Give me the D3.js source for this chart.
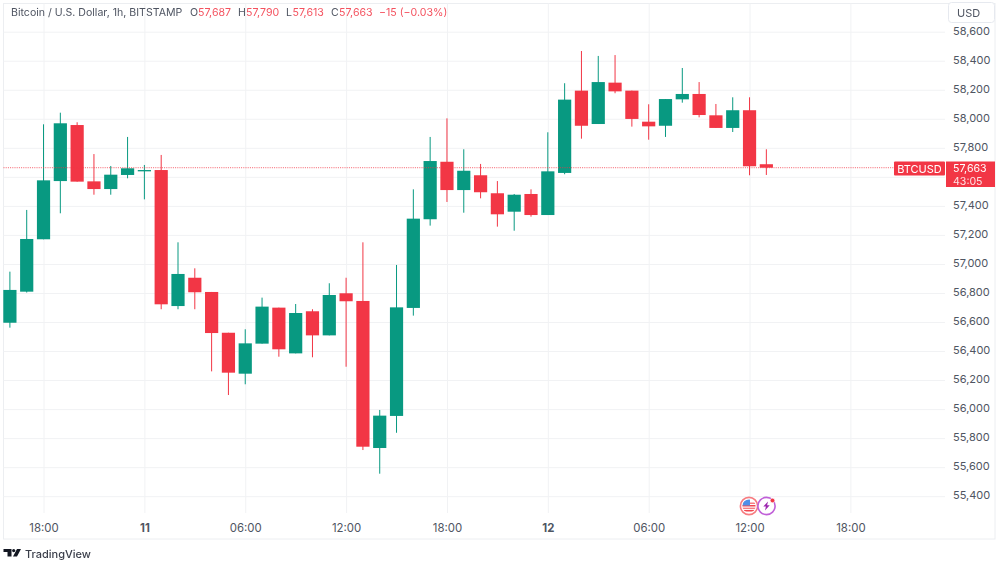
<!DOCTYPE html>
<html><head><meta charset="utf-8">
<script src="https://cdn.jsdelivr.net/npm/d3@7/dist/d3.min.js"></script>
<style>
html,body{margin:0;padding:0;background:#fff;overflow:hidden}
svg{display:block;filter:blur(.5px)}
text{font-family:Inter,"Liberation Sans",sans-serif}
</style></head><body><svg id="c" width="1000" height="562"></svg>
<script>
const startTime = "2024-08-10T16:00:00Z";
const opens  = [56595,56809,57170,57571,57957,57569,57516,57613,57638,57647,56710,56905,56807,56526,56244,56451,56699,56384,56674,56508,56798,56745,55732,55953,56697,57308,57704,57509,57611,57487,57360,57482,57337,57627,58194,57964,58249,58194,57980,57952,58134,58171,58024,57937,58059,57687];
const closes = [56821,57172,57576,57969,57567,57516,57615,57659,57647,56722,56931,56805,56524,56251,56453,56706,56412,56662,56508,56786,56743,55741,55955,56701,57312,57709,57509,57642,57494,57342,57477,57337,57638,58132,57952,58253,58189,57999,57948,58136,58171,58026,57937,58059,57673,57663];
const highs  = [56947,57372,57962,58042,57976,57757,57675,57875,57682,57751,57149,56970,56807,56526,56550,56768,56699,56724,56688,56867,56905,57149,55994,56993,57514,57875,58003,57790,57689,57571,57482,57514,57907,58245,58467,58433,58439,58194,58100,58136,58350,58253,58102,58148,58148,57790];
const lows   = [56561,56803,57170,57349,57567,57477,57477,57590,57445,56688,56688,56688,56260,56097,56171,56451,56361,56384,56357,56508,56292,55718,55555,55837,56644,57264,57427,57353,57452,57257,57229,57326,57337,57618,57863,57964,58176,57946,57856,57875,58111,58010,57937,57909,57611,57613];
const priceTicks = [55400,55600,55800,56000,56200,56400,56600,56800,57000,57200,57400,57600,57800,58000,58200,58400,58600];
const hiddenPriceLabels = [57600];
const timeTicks = ["2024-08-10T18:00:00Z","2024-08-11T00:00:00Z","2024-08-11T06:00:00Z","2024-08-11T12:00:00Z","2024-08-11T18:00:00Z","2024-08-12T00:00:00Z","2024-08-12T06:00:00Z","2024-08-12T12:00:00Z","2024-08-12T18:00:00Z"];
const timeLabels = ["18:00","11","06:00","12:00","18:00","12","06:00","12:00","18:00"];
const headerLabels = ["O","H","L","C"];
const headerValues = ["57,687","57,790","57,613","57,663"];
const titleText = "Bitcoin / U.S. Dollar, 1h, BITSTAMP";
const changeText = "\u221215 (\u22120.03%)";
const lastPrice = 57663;
const symbolName = "BTCUSD";
const countdown = "43:05";

const RED="#f23645", GREEN="#089981", GRID="#f1f2f4", TXT="#4f5562";
const svg=d3.select("#c");
const t0=new Date(startTime);
const hour=i=>new Date(+t0+i*3600e3);
const x=d3.scaleUtc().domain([hour(0),hour(50)]).range([9.9,850.4]);
const y=d3.scaleLinear().domain([55400,58600]).range([496.2,31.7]);

// frame
const L=3.5,R=995,T=3.5,B=539,AX=945,PB=513;
svg.append("rect").attr("x",L).attr("y",T).attr("width",R-L).attr("height",B-T).attr("fill","#fff").attr("stroke","#eceef1");

// grid through axes
const gy=svg.append("g").attr("transform",`translate(${L},0)`)
  .call(d3.axisRight(y).tickValues(priceTicks).tickSize(AX-L).tickFormat(""));
gy.select(".domain").remove(); gy.selectAll("line").attr("stroke",GRID);
const gx=svg.append("g").attr("transform",`translate(0,${T})`)
  .call(d3.axisBottom(x).tickValues(timeTicks.map(d=>new Date(d))).tickSize(PB-T).tickFormat(""));
gx.select(".domain").remove(); gx.selectAll("line").attr("stroke",GRID);

// candles
const idx=d3.range(opens.length);
const col=i=>closes[i]>=opens[i]?GREEN:RED;
const bw=13.2;
svg.append("g").selectAll("line").data(idx).join("line")
  .attr("x1",i=>x(hour(i))).attr("x2",i=>x(hour(i)))
  .attr("y1",i=>y(highs[i])).attr("y2",i=>y(lows[i]))
  .attr("stroke",col).attr("stroke-width",1);
svg.append("g").selectAll("rect").data(idx).join("rect")
  .attr("x",i=>x(hour(i))-bw/2).attr("width",bw)
  .attr("y",i=>y(Math.max(opens[i],closes[i])))
  .attr("height",i=>Math.max(1.2,Math.abs(y(opens[i])-y(closes[i]))))
  .attr("fill",col);

// last price line
svg.append("line").attr("x1",L).attr("x2",894).attr("y1",y(lastPrice)).attr("y2",y(lastPrice))
  .attr("stroke",RED).attr("stroke-opacity",.8).attr("stroke-dasharray","1 1.2");

// axes labels
const ay=svg.append("g").attr("transform",`translate(${AX},0)`)
  .call(d3.axisRight(y).tickValues(priceTicks.filter(p=>!hiddenPriceLabels.includes(p))).tickSize(0).tickPadding(8).tickFormat(d3.format(",")));
ay.select(".domain").remove();
ay.selectAll("text").attr("fill",TXT).style("font-size","11px").style("font-family","Inter").attr("dy","0.25em");
const ax=svg.append("g").attr("transform",`translate(0,${PB})`)
  .call(d3.axisBottom(x).tickValues(timeTicks.map(d=>new Date(d))).tickSize(0).tickPadding(11)
    .tickFormat((d,i)=>timeLabels[i]));
ax.select(".domain").remove();
ax.selectAll("text").attr("fill",TXT).style("font-size","11.4px").style("font-family","Inter")
  .attr("font-weight",(d,i)=>timeLabels[i].length<3?700:400);

// price tags
svg.append("rect").attr("x",894).attr("y",161.5).attr("width",51).attr("height",14).attr("rx",1).attr("fill",RED);
svg.append("text").attr("x",919.5).attr("y",172.5).attr("text-anchor","middle").attr("fill","#fff").style("font-size","11px").text(symbolName);
svg.append("rect").attr("x",946).attr("y",161.5).attr("width",49).attr("height",25.5).attr("fill",RED);
svg.append("text").attr("x",953).attr("y",171.5).attr("fill","#fff").style("font-size","10.6px").text(d3.format(",")(lastPrice));
svg.append("text").attr("x",953).attr("y",184.5).attr("fill","#fff").attr("fill-opacity",.85).style("font-size","10.6px").text(countdown);

// USD button
svg.append("rect").attr("x",948.5).attr("y",2.5).attr("width",46).attr("height",20).attr("rx",3).attr("fill","#fff").attr("stroke","#e6e9ef");
svg.append("text").attr("x",957).attr("y",16.5).attr("fill",TXT).style("font-size","11px").text("USD");

// header
svg.append("text").attr("x",11).attr("y",15.5).attr("fill",TXT).style("font-size","10.6px").text(titleText);
const hdrX=[190,238,286,331], valX=[198,246,292.5,339];
headerLabels.forEach((l,i)=>{
  svg.append("text").attr("x",hdrX[i]).attr("y",15.5).attr("fill",TXT).style("font-size","10.6px").text(l);
  svg.append("text").attr("x",valX[i]).attr("y",15.5).attr("fill","#f4525f").style("font-size","10.6px").text(headerValues[i]);
});
svg.append("text").attr("x",379).attr("y",15.5).attr("fill","#f4525f").style("font-size","10.6px").text(changeText);

// event icons
const flag=svg.append("g").attr("transform","translate(749,506)");
flag.append("circle").attr("r",8.6).attr("fill","#fff").attr("stroke","#f77c80").attr("stroke-width",1.6);
const cp=svg.append("clipPath").attr("id","fc"); cp.append("circle").attr("cx",749).attr("cy",506).attr("r",6.6);
const fl=svg.append("g").attr("clip-path","url(#fc)");
fl.append("rect").attr("x",742).attr("y",499).attr("width",14).attr("height",14).attr("fill","#fff");
[502.5,505,507.6,510].forEach((yy,i)=>fl.append("rect").attr("x",742).attr("y",yy).attr("width",14).attr("height",1.5).attr("fill","#f2464f").attr("opacity",i==1||i==3?1:.7));
fl.append("rect").attr("x",742).attr("y",499).attr("width",8).attr("height",6.5).attr("fill","#4f8fe8");
const bolt=svg.append("g").attr("transform","translate(766.5,506)");
bolt.append("circle").attr("r",8.6).attr("fill","#fff").attr("stroke","#c060d8").attr("stroke-width",1.6);
bolt.append("path").attr("d","M1.5,-4.5 L-3.2,0.6 L-0.6,0.6 L-1.5,4.5 L3.2,-0.8 L0.6,-0.8 Z").attr("fill","#9c27b0");
svg.append("circle").attr("cx",772.5).attr("cy",500.5).attr("r",2.3).attr("fill","#f23645").attr("stroke","#fff").attr("stroke-width",.6);

// logo
const logo=svg.append("g").attr("transform","translate(3.5,549)").attr("fill","#131722");
logo.append("path").attr("d","M0,0 H8 V7.5 H4 V3 H0 Z");
logo.append("circle").attr("cx",10.2).attr("cy",1.6).attr("r",1.6);
logo.append("path").attr("d","M13.5,0 H17.5 L13.5,7.5 H9.5 Z");
svg.append("text").attr("x",25).attr("y",558).attr("fill","#3a3e4a").attr("font-weight",500).style("font-size","11px").text("TradingView");
</script></body></html>
